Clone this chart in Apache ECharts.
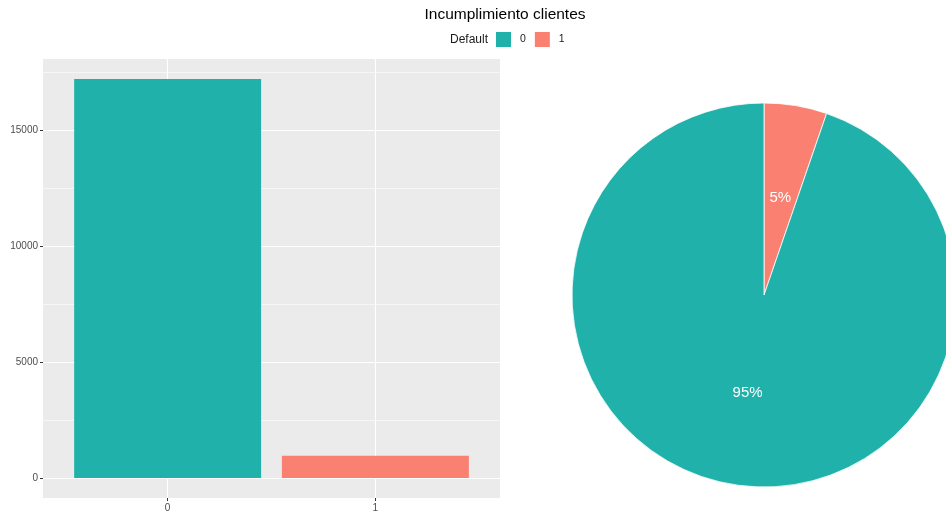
<!DOCTYPE html>
<html>
<head>
<meta charset="utf-8">
<script src="https://cdn.jsdelivr.net/npm/echarts@6/dist/echarts.min.js"></script>
<style>
  html, body { margin: 0; padding: 0; background: #fff; }
  #chart { width: 946px; height: 514px; }
</style>
</head>
<body>
<div id="chart"></div>
<script>
// Default status of clients: counts per class
const categories = ['0', '1'];
const counts = [17200, 960];
const classColors = ['#20B2AA', '#FA8072'];
const yTicks = [0, 5000, 10000, 15000];
const yMinorTicks = [2500, 7500, 12500, 17500];

const FONT = '"Liberation Sans", Arial, sans-serif';
const yMax = Math.max(...counts) * 1.05;
const yMin = -Math.max(...counts) * 0.05;

const chart = echarts.init(document.getElementById('chart'), null, { renderer: 'canvas' });

// pie is drawn starting at 12 o'clock with class '1' first, clockwise
const pieData = categories.map((c, i) => ({ name: c, value: counts[i], itemStyle: { color: classColors[i] } })).reverse();

const option = {
  backgroundColor: '#fff',
  animation: false,
  textStyle: { fontFamily: FONT },
  title: {
    text: 'Incumplimiento clientes',
    left: 505,
    textAlign: 'center',
    top: 7,
    padding: 0,
    textStyle: { fontFamily: FONT, fontSize: 15.5, fontWeight: 'normal', color: '#000' }
  },
  legend: {
    data: categories,
    left: 494,
    top: 30,
    padding: 0,
    itemWidth: 17,
    itemHeight: 17,
    itemGap: 7,
    icon: 'rect',
    selectedMode: false,
    textStyle: { fontFamily: FONT, fontSize: 10.5, color: '#1a1a1a', padding: [2, 0, 0, 3] }
  },
  graphic: [{
    type: 'text',
    left: 450,
    top: 34,
    style: { text: 'Default', fontFamily: FONT, fontSize: 12, fill: '#1a1a1a' }
  }],
  grid: {
    left: 43, right: 446, top: 59, bottom: 16,
    show: true, backgroundColor: '#EBEBEB', borderWidth: 0
  },
  xAxis: {
    type: 'value',
    min: -0.6,
    max: 1.6,
    axisLine: { show: false, onZero: false },
    axisTick: { show: true, length: 3, lineStyle: { color: '#333', width: 1 }, customValues: [0, 1] },
    axisLabel: {
      customValues: [0, 1],
      formatter: v => categories[Math.round(v)],
      color: '#4D4D4D', fontSize: 10, fontFamily: FONT, margin: 5
    },
    splitLine: { show: true, lineStyle: { color: '#fff', width: 1.1 } }
  },
  yAxis: [{
    type: 'value',
    min: yMin,
    max: yMax,
    axisLine: { show: false, onZero: false },
    axisTick: { show: true, length: 3, lineStyle: { color: '#333', width: 1 }, customValues: yTicks },
    axisLabel: {
      customValues: yTicks,
      formatter: v => String(v),
      color: '#4D4D4D', fontSize: 10, fontFamily: FONT, margin: 5
    },
    splitLine: { show: true, lineStyle: { color: '#fff', width: 1.1 } }
  }, {
    type: 'value',
    position: 'left',
    min: yMin,
    max: yMax,
    axisLine: { show: false, onZero: false },
    axisTick: { show: false, customValues: yMinorTicks },
    axisLabel: { show: false, customValues: yMinorTicks },
    splitLine: { show: true, lineStyle: { color: '#fff', width: 0.55 } }
  }],
  series: [{
    type: 'bar',
    name: 'count',
    xAxisIndex: 0,
    yAxisIndex: 0,
    barWidth: '90%',
    data: counts.map((v, i) => ({ value: [i, v], itemStyle: { color: classColors[i] } })),
    legendHoverLink: false
  }, {
    type: 'pie',
    center: [764, 295],
    radius: 192,
    startAngle: 90,
    clockwise: true,
    data: pieData,
    itemStyle: { borderColor: '#fff', borderWidth: 0.8 },
    label: {
      show: true,
      position: 'inside',
      formatter: p => Math.round(p.percent) + '%',
      color: '#fff',
      fontSize: 15,
      fontFamily: FONT
    },
    labelLine: { show: false },
    emphasis: { disabled: true }
  }]
};

chart.setOption(option);
</script>
</body>
</html>
